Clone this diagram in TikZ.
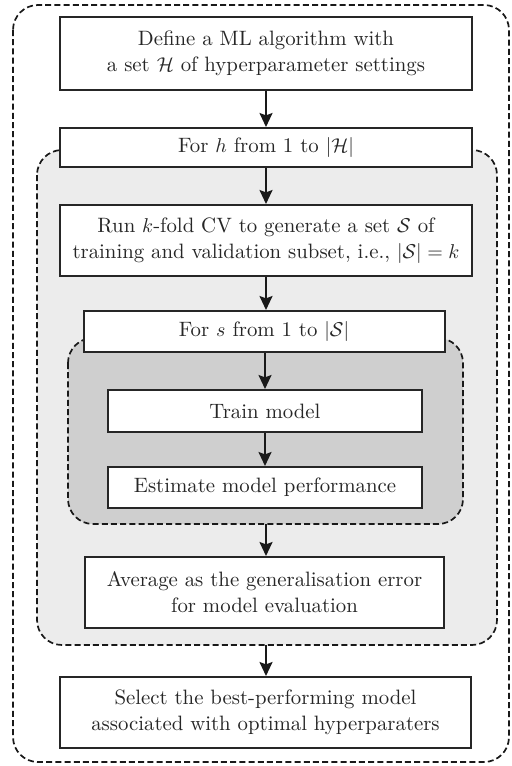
\documentclass[tikz,border=0pt]{standalone}
\usetikzlibrary{arrows.meta}
\begin{document}
\begin{tikzpicture}[x=0.5pt,y=-0.5pt,
  box/.style={draw=black!85, line width=1pt, fill=white, rectangle, inner sep=0pt,
    align=center, font=\fontsize{10.4}{13}\selectfont, text=black!85},
  region/.style={draw=black!90, line width=0.85pt, dash pattern=on 3pt off 1.6pt,
    rounded corners=12.5pt},
  flow/.style={draw=black!90, line width=1pt,
    -{Stealth[length=7pt,width=6.5pt,inset=1.2pt]}}]
\useasboundingbox (0,0) rectangle (511,766);

% nested loop regions
\draw[region] (13,5) rectangle (509,762);
\draw[region, fill=gray!15] (37,150) rectangle (497,645);
\draw[region, fill=gray!38] (68,338) rectangle (463,524);
\coordinate (hEnd) at (266,645);
\coordinate (sEnd) at (266,524);

% steps
\node[box, minimum width=206pt, minimum height=36.5pt] (define) at (266,53.5)
  {Define a ML algorithm with\\ a set $\mathcal{H}$ of hyperparameter settings};
\node[box, minimum width=206pt, minimum height=19.5pt] (forh) at (266,147.5)
  {For $h$ from 1 to $|\mathcal{H}|$};
\node[box, minimum width=206pt, minimum height=35.5pt] (cv) at (266,240.5)
  {Run $k$-fold CV to generate a set $\mathcal{S}$ of\\ training and validation subset, i.e., $|\mathcal{S}|=k$};
\node[box, minimum width=180.5pt, minimum height=20.5pt] (fors) at (264,331.5)
  {For $s$ from 1 to $|\mathcal{S}|$};
\node[box, minimum width=157pt, minimum height=21pt] (train) at (265,411)
  {Train model};
\node[box, minimum width=157pt, minimum height=20.5pt] (estimate) at (265,487.5)
  {Estimate model performance};
\node[box, minimum width=179.5pt, minimum height=35.5pt] (average) at (264.5,592.5)
  {Average as the generalisation error\\ for model evaluation};
\node[box, minimum width=205.5pt, minimum height=35.5pt] (select) at (265.5,712.5)
  {Select the best-performing model\\ associated with optimal hyperparaters};

% connectors
\draw[flow] (define.south) -- (define.south |- forh.north);
\draw[flow] (forh.south) -- (forh.south |- cv.north);
\draw[flow] (cv.south) -- (cv.south |- fors.north);
\draw[flow] (fors.south -| train.north) -- (train.north);
\draw[flow] (train.south) -- (estimate.north);
\draw[flow] (sEnd) -- (sEnd |- average.north);
\draw[flow] (hEnd) -- (hEnd |- select.north);
\end{tikzpicture}
\end{document}
